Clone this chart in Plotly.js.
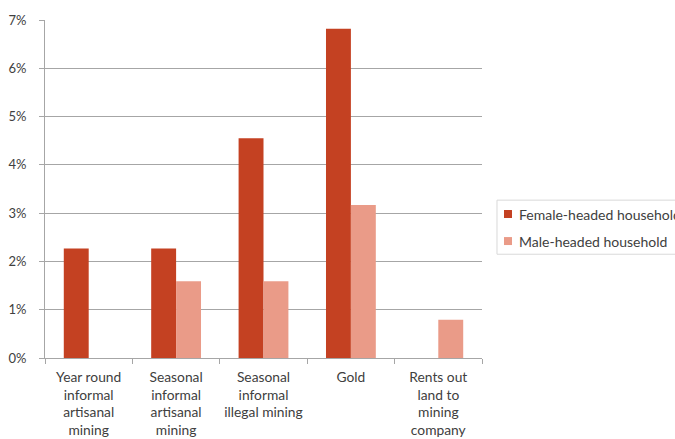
<!DOCTYPE html>
<html>
<head>
<meta charset="utf-8">
<script src="https://cdn.plot.ly/plotly-3.0.1.min.js"></script>
<style>html,body{margin:0;padding:0;background:#fff;}#chart{width:675px;height:439px;}</style>
</head>
<body>
<div id="chart"></div>
<script>
const categories = [
  "Year round<br>informal<br>artisanal<br>mining",
  "Seasonal<br>informal<br>artisanal<br>mining",
  "Seasonal<br>informal<br>illegal mining",
  "Gold",
  "Rents out<br>land to<br>mining<br>company"
];
const femaleValues = [0.0227, 0.0227, 0.0455, 0.0682, 0];
const maleValues = [0, 0.0159, 0.0159, 0.0317, 0.0079];
const seriesNames = ["Female-headed household", "Male-headed household"];
const seriesColors = ["#C44122", "#EA9B88"];

const font = "Lato, 'Open Sans', 'Liberation Sans', sans-serif";
const data = [
  {type: "bar", x: categories, y: femaleValues, name: seriesNames[0],
   marker: {color: seriesColors[0], line: {width: 0}}},
  {type: "bar", x: categories, y: maleValues, name: seriesNames[1],
   marker: {color: seriesColors[1], line: {width: 0}}}
];

// Custom legend (box, swatches, labels) placed in paper coordinates
const shapes = [
  {type: "rect", xref: "paper", yref: "paper", x0: 1.0343, x1: 1.6, y0: 0.307, y1: 0.467,
   line: {color: "#D9D9D9", width: 1}, fillcolor: "rgba(0,0,0,0)"}
];
const annotations = [];
const itemY = [0.426, 0.346];
seriesNames.forEach((n, i) => {
  shapes.push({type: "rect", xref: "paper", yref: "paper", x0: 1.0503, x1: 1.0686,
    y0: itemY[i] - 0.0118, y1: itemY[i] + 0.0118, line: {width: 0}, fillcolor: seriesColors[i]});
  annotations.push({xref: "paper", yref: "paper", x: 1.0801, y: itemY[i], xanchor: "left",
    yanchor: "middle", text: n, showarrow: false, font: {family: font, size: 14, color: "#404040"}});
});

const layout = {
  width: 675, height: 439,
  margin: {l: 45, r: 193, t: 20, b: 81, autoexpand: false},
  paper_bgcolor: "#fff", plot_bgcolor: "#fff",
  font: {family: font, size: 13, color: "#404040"},
  barmode: "group", bargap: 0.43, bargroupgap: 0,
  showlegend: false,
  shapes: shapes, annotations: annotations,
  xaxis: {type: "category", showline: true, linecolor: "#A6A6A6", linewidth: 1,
    ticks: "outside", tickson: "boundaries", ticklen: 5, tickcolor: "#A6A6A6", tickangle: 0,
    ticklabelstandoff: 6,
    tickfont: {family: font, size: 13.8, color: "#404040"}, showgrid: false, zeroline: false},
  yaxis: {range: [0, 0.07], dtick: 0.01, tickformat: ".0%", showline: true,
    linecolor: "#A6A6A6", linewidth: 1, ticks: "outside", ticklen: 5, tickcolor: "#A6A6A6",
    ticklabelstandoff: 10,
    gridcolor: "#A6A6A6", gridwidth: 1, zeroline: false,
    tickfont: {family: font, size: 13, color: "#404040"}}
};
Plotly.newPlot("chart", data, layout, {displayModeBar: false, staticPlot: true});
</script>
</body>
</html>
